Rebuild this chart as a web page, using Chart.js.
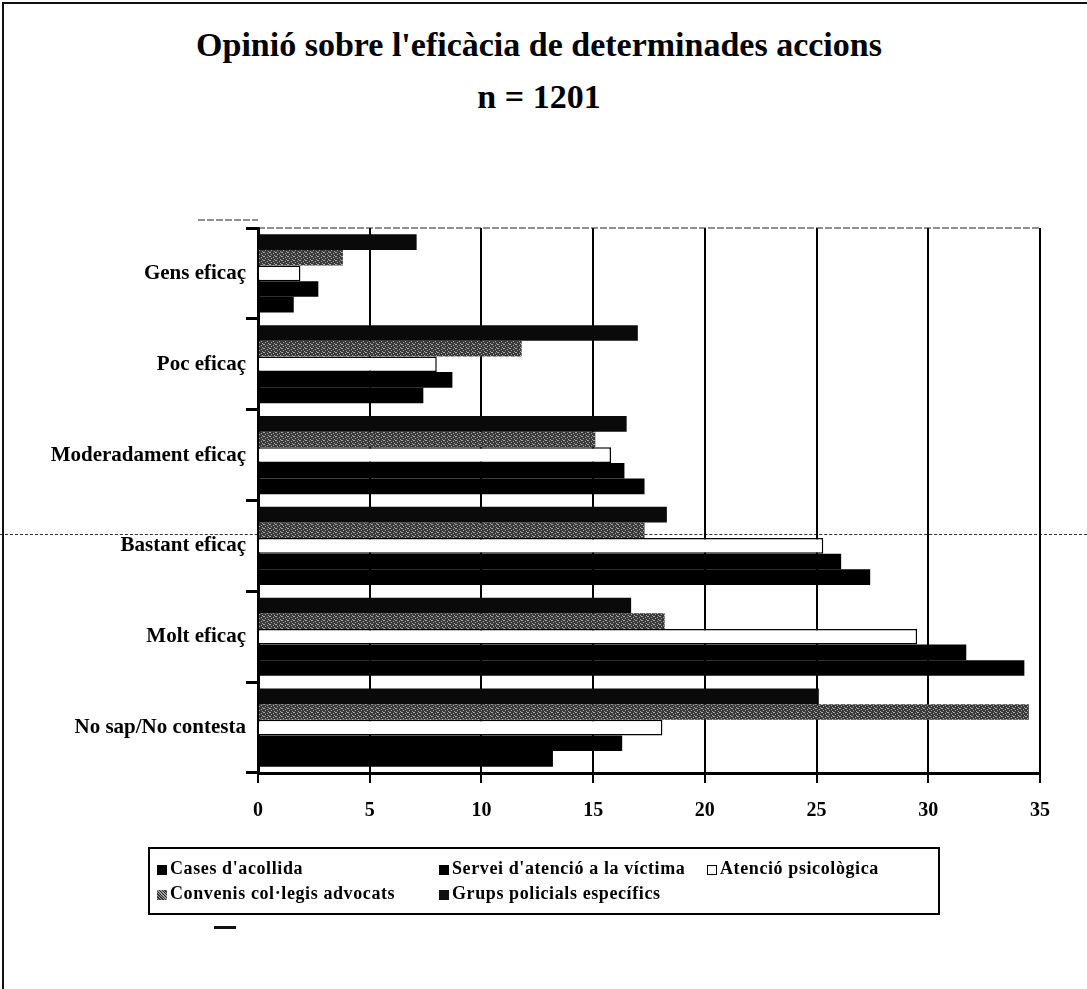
<!DOCTYPE html>
<html>
<head>
<meta charset="utf-8">
<script src="https://cdn.jsdelivr.net/npm/chart.js@4.4.0/dist/chart.umd.min.js"></script>
<style>
html,body{margin:0;padding:0;background:#fff;}
#wrap{position:relative;width:1087px;height:989px;overflow:hidden;background:#fff;}
#frame{position:absolute;left:2px;top:2px;width:1200px;height:1200px;border-left:2px solid #111;border-top:2px solid #111;}
#fold{position:absolute;left:0;top:534px;width:1087px;border-top:1px dashed #333;}
#mark{position:absolute;left:214px;top:926px;width:22px;height:3px;background:#111;}
#c{position:absolute;left:0;top:0;}
.tl{position:absolute;left:0;width:1078px;text-align:center;font:bold 34px "Liberation Serif","Times New Roman",serif;color:#000;line-height:40px;}
#legend{position:absolute;left:148px;top:847px;width:788px;height:64px;border:2px solid #000;font:bold 18px "Liberation Serif","Times New Roman",serif;color:#000;letter-spacing:0.6px;}
.item{position:absolute;white-space:nowrap;line-height:18px;}
.sw{display:inline-block;width:10px;height:10px;margin-right:3px;vertical-align:-1px;box-sizing:border-box;}
</style>
</head>
<body>
<div id="wrap">
  <div id="frame"></div>
  <div id="fold"></div>
  <div id="mark"></div>
  <div id="t1" class="tl" style="top:25px"></div>
  <div id="t2" class="tl" style="top:77px"></div>
  <canvas id="c" width="1087" height="989"></canvas>
  <div id="legend"></div>
</div>
<script>
// ---- data (categories top to bottom) ----
const categories = ["Gens eficaç", "Poc eficaç", "Moderadament eficaç", "Bastant eficaç", "Molt eficaç", "No sap/No contesta"];
const titleLines = ["Opinió sobre l'eficàcia de determinades accions", "n = 1201"];
const seriesNames = ["Cases d'acollida", "Servei d'atenció a la víctima", "Atenció psicològica", "Convenis col·legis advocats", "Grups policials específics"];
const casesAcollida = [1.6, 7.4, 17.3, 27.4, 34.3, 13.2];
const serveiVictima = [2.7, 8.7, 16.4, 26.1, 31.7, 16.3];
const atencioPsicologica = [1.9, 8.0, 15.8, 25.3, 29.5, 18.1];
const convenisAdvocats = [3.8, 11.8, 15.1, 17.3, 18.2, 34.5];
const grupsPolicials = [7.1, 17.0, 16.5, 18.3, 16.7, 25.1];
const xTicks = [0, 5, 10, 15, 20, 25, 30, 35];

const FONT = '"Liberation Serif","Times New Roman",serif';
document.getElementById('t1').textContent = titleLines[0];
document.getElementById('t2').textContent = titleLines[1];

const canvas = document.getElementById('c');
const ctx = canvas.getContext('2d');

function speckle() {
  const p = document.createElement('canvas');
  p.width = 6; p.height = 4;
  const g = p.getContext('2d');
  g.fillStyle = '#3a3a3a'; g.fillRect(0, 0, 6, 4);
  g.fillStyle = '#a8a8a8';
  [[0,0],[3,1],[1,2],[4,3],[5,0]].forEach(([x,y]) => g.fillRect(x, y, 1, 1));
  return ctx.createPattern(p, 'repeat');
}
const greyPat = speckle();

const styles = [
  {bg:'#000', border:'#000', bw:0, css:'background:#000;'},
  {bg:'#000', border:'#000', bw:0, css:'background:#000;'},
  {bg:'#fff', border:'#000', bw:1.5, css:'background:#fff;border:1.5px solid #000;'},
  {bg:greyPat, border:'#111', bw:0, css:'background:repeating-linear-gradient(45deg,#333 0 1px,#999 1px 2px);'},
  {bg:'#0a0a0a', border:'#000', bw:0, css:'background:#111;'}
];
const seriesValues = [casesAcollida, serveiVictima, atencioPsicologica, convenisAdvocats, grupsPolicials];

// datasets drawn top-to-bottom within a group: Grups, Convenis, Atenció, Servei, Cases
const order = [4, 3, 2, 1, 0];
const datasets = order.map(i => ({
  label: seriesNames[i],
  data: seriesValues[i],
  backgroundColor: styles[i].bg,
  borderColor: styles[i].border,
  borderWidth: styles[i].bw,
  borderSkipped: 'left',
  categoryPercentage: 0.86,
  barPercentage: 1.0
}));

const topBorder = {
  id: 'topBorder',
  afterDraw(chart) {
    const a = chart.chartArea, c = chart.ctx;
    c.save();
    c.strokeStyle = '#222'; c.lineWidth = 1.2; c.setLineDash([7, 2]);
    c.beginPath(); c.moveTo(a.left - 60, a.top - 8); c.lineTo(a.left, a.top - 8); c.stroke();
    c.beginPath(); c.moveTo(a.left, a.top); c.lineTo(a.right, a.top); c.stroke();
    c.restore();
  }
};

new Chart(ctx, {
  type: 'bar',
  data: { labels: categories, datasets: datasets },
  plugins: [topBorder],
  options: {
    indexAxis: 'y',
    responsive: false,
    animation: false,
    layout: { padding: { left: 0, right: 47, top: 228, bottom: 166 } },
    plugins: {
      legend: { display: false },
      tooltip: { enabled: false },
      title: { display: false }
    },
    scales: {
      x: {
        min: 0, max: 35,
        afterBuildTicks(s) { s.ticks = xTicks.map(v => ({ value: v })); },
        ticks: { color: '#000', font: { family: FONT, size: 20, weight: 'bold' }, padding: 16 },
        grid: { color: '#000', lineWidth: 2, tickLength: 10 },
        border: { color: '#000', width: 3 },
        afterFit(s) { s.height = 50; }
      },
      y: {
        ticks: { color: '#000', font: { family: FONT, size: 21, weight: 'bold' }, padding: 0 },
        grid: { drawOnChartArea: false, color: '#000', lineWidth: 3, tickLength: 12, offset: true },
        border: { color: '#000', width: 3 },
        afterFit(s) { s.width = 258; }
      }
    }
  }
});

// HTML legend
const legend = document.getElementById('legend');
const pos = [[7, 10], [289, 10], [557, 10], [7, 35], [289, 35]];
seriesNames.forEach((name, i) => {
  const d = document.createElement('div');
  d.className = 'item';
  d.style.left = pos[i][0] + 'px';
  d.style.top = pos[i][1] + 'px';
  const sw = document.createElement('span');
  sw.className = 'sw';
  sw.style.cssText = styles[i].css;
  d.appendChild(sw);
  d.appendChild(document.createTextNode(name));
  legend.appendChild(d);
});
</script>
</body>
</html>
